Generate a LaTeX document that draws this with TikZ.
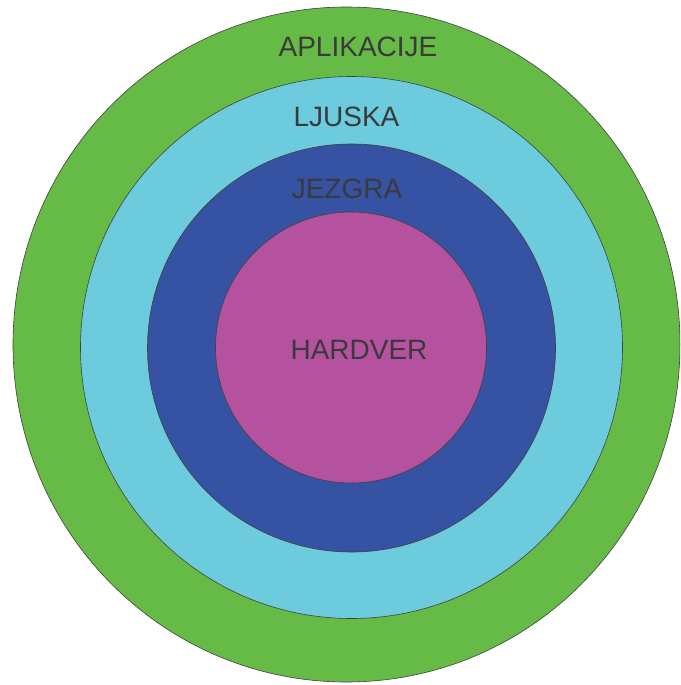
\documentclass[tikz,border=0pt]{standalone}
\usepackage{fontspec}
\setmainfont{Liberation Sans}
\definecolor{cgreen}{HTML}{66BB46}
\definecolor{clight}{HTML}{6CCBDC}
\definecolor{cdark}{HTML}{3552A3}
\definecolor{cmag}{HTML}{B5529F}
\definecolor{ctext}{HTML}{3A3A3A}
\definecolor{cline}{HTML}{404040}
\begin{document}
\begin{tikzpicture}[x=1pt,y=-1pt,
  ring/.style={draw=cline,line width=0.6pt},
  lbl/.style={text=ctext,inner sep=0pt,font=\fontsize{28}{28}\selectfont}]
\useasboundingbox (0,0) rectangle (680,685);
\clip (0,0) rectangle (680,685);
\fill[white] (0,0) rectangle (680,685);
\filldraw[ring,fill=cgreen] (346.5,344.5) ellipse[x radius=333.5,y radius=337.5];
\filldraw[ring,fill=clight] (351.5,347.5) circle[radius=271];
\filldraw[ring,fill=cdark] (351.5,348) circle[radius=204];
\filldraw[ring,fill=cmag] (351,347.5) circle[radius=135.5];
\node[lbl] (app) at (358,47) {APLIKACIJE};
\node[lbl] (shell) at (346.5,116.5) {LJUSKA};
\node[lbl] (kernel) at (347,189) {JEZGRA};
\node[lbl] (hw) at (359,349.5) {HARDVER};
\end{tikzpicture}
\end{document}
